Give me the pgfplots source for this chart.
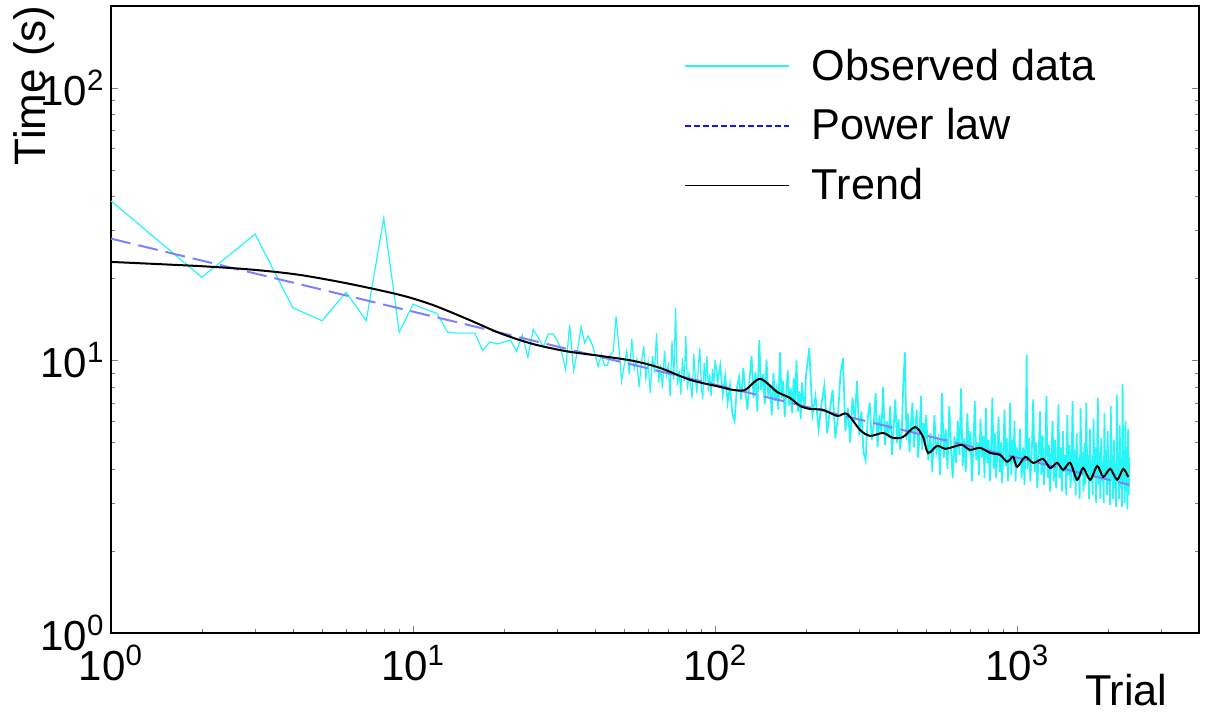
\documentclass[border=0pt]{standalone}
\usepackage{fontspec}
\setmainfont{Liberation Sans}
\usepackage{pgfplots}
\pgfplotsset{compat=1.18}

\definecolor{obs}{RGB}{40,245,245}
\definecolor{powlaw}{RGB}{128,128,255}
\definecolor{legblue}{RGB}{20,20,255}

\begin{document}
\begin{tikzpicture}
\begin{axis}[
  scale only axis,
  width=544pt, height=313.5pt,
  xmode=log, ymode=log,
  xmin=1, xmax=4000, ymin=1, ymax=200,
  axis line style={line width=0.6pt},
  tick align=inside,
  xtick pos=left,
  ytick pos=both,
  major tick length=3.5pt,
  minor tick length=2pt,
  xtick={1,10,100,1000},
  xticklabels={10\textsuperscript{0},10\textsuperscript{1},10\textsuperscript{2},10\textsuperscript{3}},
  minor xtick={2,3,4,5,6,7,8,9,20,30,40,50,60,70,80,90,200,300,400,500,600,700,800,900,2000,3000,4000},
  ytick={1,10,100},
  yticklabels={10\textsuperscript{0},10\textsuperscript{1},10\textsuperscript{2}},
  minor ytick={2,3,4,5,6,7,8,9,20,30,40,50,60,70,80,90,200},
  tick label style={font=\fontsize{21}{25}\selectfont, inner sep=0pt},
  xticklabel style={yshift=-6pt},
  yticklabel style={xshift=-3pt},
  xlabel={Trial},
  xlabel style={font=\fontsize{21.6}{26}\selectfont, at={(axis description cs:0.895,-0.1164)}, anchor=base west, inner sep=0pt},
  ylabel={Time (s)},
  ylabel style={font=\fontsize{22}{26}\selectfont, at={(axis description cs:-0.0515,1.0016)}, anchor=south east, inner sep=0pt},
  legend cell align=left,
  legend style={draw=none, fill=none, at={(axis description cs:0.521,0.945)}, anchor=north west,
    font=\fontsize{21.6}{26}\selectfont, row sep=8.75pt,
    /tikz/every odd column/.append style={column sep=9pt}},
  legend image code/.code={\draw[#1] (0pt,0pt) -- (52pt,0pt);},
]
% observed data, sparse part
\addplot[obs, line width=0.6pt, forget plot] coordinates {
(1,38.5) (2,20.2) (3,29.1) (4,15.6) (5,14.0) (6,17.8) (7,14.0) (8,33.3) (9,12.7) (10,16.1)
(11,15.4) (12,14.9) (13,12.7) (14,12.6) (15,12.6) (16,12.6) (17,10.9) (18,11.7) (19,11.5) (20,11.7)
(21,11.9) (22,10.8) (23,12.4) (24,10.3) (25,13.0) (26,12.1) (27,11.2) (28,12.5) (29,12.5) (30,11.9)
(31,10.8) (32,9.24) (33,13.5) (34,9.2) (35,10.8) (36,13.3) (37,11.6) (38,12.3) (39,11.6) (40,10.6)
(41,9.5) (42,10.5) (43,9.6) (44,9.6) (45,10.5) (46,10.8) (47,14.5) (48,11.4) (49,8.4) (50,9.6)
(51,10.8) (52,8.9) (53,12.0) (54,9.3) (55,10.1) (56,8.0) (57,9.7) (58,11.3) (59,8.6) (60,9.9)
(61,7.6) (62,10.4) (63,9.0) (64,12.6) (65,8.3) (66,9.4) (67,7.9) (68,10.9) (69,8.8) (70,9.6)
(71,7.4) (72,11.8) (73,8.5) (74,15.6) (75,8.1) (76,9.2) (77,7.5) (78,10.2) (79,8.4) (80,12.3)
(81,7.8) (82,9.0) (83,8.1) (84,7.3) (85,10.6) (86,8.7) (87,7.6) (88,9.5) (89,11.1) (90,8.0)
(91,7.2) (92,9.8) (93,8.3) (94,10.4) (95,7.7) (96,8.9) (97,7.4) (98,9.3) (99,8.2) (100,10.0)
};
% observed data, dense part
\addplot[obs, line width=0.85pt, forget plot] coordinates {
(100,10.0)
(102,8.4) (104,9.6) (106,7.5) (108,8.8) (110,7.0) (112,8.1) (114,6.4) (116,6.0) (118,7.9) (120,8.7)
(122,7.2) (124,9.4) (126,7.6) (128,6.6) (130,8.5) (132,10.4) (134,7.3) (136,9.1) (138,6.5) (140,11.9)
(142,7.8) (144,8.9) (146,6.9) (148,10.1) (150,7.4) (152,8.2) (154,6.3) (156,9.0) (158,7.1) (160,7.9)
(162,6.6) (164,10.7) (166,7.3) (168,8.4) (170,6.2) (172,7.6) (174,9.2) (176,6.8) (178,7.9) (180,6.4)
(182,8.6) (184,7.0) (186,10.0) (188,6.5) (190,7.7) (192,6.1) (194,8.3) (196,7.2) (198,6.7) (200,8.8)
(205,11.1) (210,6.3) (215,7.4) (220,5.6) (225,6.9) (230,8.1) (235,5.4) (240,6.6) (245,7.8) (250,5.2)
(255,6.2) (260,8.9) (265,10.2) (270,5.5) (275,6.7) (280,5.0) (285,7.3) (290,6.0) (295,8.4) (300,5.3)
(305,6.5) (310,4.6) (315,4.3) (320,6.1) (325,7.0) (330,5.1) (335,5.8) (340,7.6) (345,4.8) (350,6.3)
(355,5.4) (360,8.0) (365,4.9) (370,6.0) (375,5.2) (380,6.8) (385,4.5) (390,5.7) (395,7.2) (400,5.0)
(405,6.1) (410,4.7) (415,5.5) (420,8.3) (425,10.7) (430,5.1) (435,6.4) (440,4.6) (445,5.8) (450,7.0)
(455,4.8) (460,5.6) (465,6.6) (470,4.4) (475,5.3) (480,7.4) (485,4.7) (490,5.9) (495,4.9) (500,6.3)
(508,4.3) (516,5.4) (524,3.9) (532,6.3) (540,4.6) (548,5.1) (556,3.8) (564,7.6) (572,4.4) (580,5.6)
(588,4.0) (596,6.8) (604,4.7) (612,3.7) (620,5.3) (628,4.2) (636,6.0) (644,4.5) (652,7.9) (660,4.1)
(668,5.2) (676,3.9) (684,6.4) (692,4.6) (700,5.5) (708,3.6) (716,4.8) (724,7.1) (732,4.3) (740,5.0)
(748,3.8) (756,6.1) (764,4.4) (772,5.3) (780,3.7) (788,6.7) (796,4.2) (804,5.1) (812,3.6) (820,4.9)
(828,7.3) (836,4.0) (844,5.4) (852,3.7) (860,4.6) (868,6.2) (876,3.9) (884,5.0) (892,3.55) (900,4.7)
(908,6.6) (916,4.1) (924,5.2) (932,3.6) (940,4.5) (948,7.0) (956,3.8) (964,5.1) (972,4.2) (980,6.0)
(988,3.6) (996,4.8) (1010,4.1) (1022,5.6) (1034,3.7) (1046,4.8) (1058,3.5) (1070,6.2) (1075,10.5) (1082,4.0)
(1094,5.2) (1106,3.6) (1118,4.6) (1130,7.2) (1142,3.9) (1154,5.0) (1166,3.4) (1178,4.5) (1190,6.5) (1202,3.8)
(1214,5.3) (1226,3.5) (1238,4.4) (1250,7.4) (1262,3.7) (1274,4.9) (1286,3.3) (1298,4.6) (1310,6.0) (1322,3.6)
(1334,5.1) (1346,3.4) (1358,4.3) (1370,6.9) (1382,3.7) (1394,4.8) (1406,3.3) (1418,5.5) (1430,3.9) (1442,4.5)
(1454,3.2) (1466,6.3) (1478,3.8) (1490,4.9) (1502,3.4) (1514,4.2) (1526,7.1) (1538,3.6) (1550,4.7) (1562,3.2)
(1574,5.4) (1586,3.7) (1598,4.4) (1610,3.1) (1622,6.7) (1634,3.8) (1646,4.6) (1658,3.3) (1670,5.0) (1682,3.5)
(1694,7.0) (1706,3.9) (1718,4.5) (1730,3.1) (1742,5.6) (1754,3.6) (1766,4.3) (1778,3.2) (1790,6.1) (1802,3.7)
(1814,4.8) (1826,3.0) (1838,4.4) (1850,7.3) (1862,3.5) (1874,4.6) (1886,3.1) (1898,5.2) (1910,3.6) (1922,4.2)
(1934,3.0) (1946,6.4) (1958,3.7) (1970,4.7) (1982,3.2) (1994,5.5) (2006,3.5) (2018,4.3) (2030,2.95) (2042,6.8)
(2054,3.6) (2066,4.5) (2078,3.1) (2090,5.1) (2102,3.4) (2114,4.2) (2126,2.9) (2138,7.5) (2150,3.6) (2162,4.6)
(2174,3.1) (2186,5.8) (2198,3.4) (2210,4.4) (2222,2.9) (2234,8.2) (2246,3.5) (2258,4.7) (2270,3.0) (2282,6.0)
(2294,3.3) (2306,4.8) (2318,2.85) (2330,5.6) (2342,3.2) (2350,4.4)
};
% power law fit
\addplot[powlaw, line width=1pt, dash pattern=on 10pt off 4pt, forget plot] coordinates {
(1,28.0) (2350,3.50)
};
% trend
\addplot[black, line width=1pt, smooth, tension=0.5, forget plot] coordinates {
(1,23.0) (1.97,22.2) (3.0,21.5) (4.23,20.6) (6.18,19.1) (9.06,17.4) (11.6,16.0) (15.1,14.2)
(19.4,12.6) (24.9,11.5) (32.4,10.8) (41.6,10.4) (53.5,9.97) (65.8,9.39) (82.7,8.49) (103.9,8.0)
(114.7,7.8) (125.7,7.8) (141,8.56) (160.4,7.67) (177,7.29) (191.2,6.81) (206.4,6.64) (227.9,6.59)
(253.5,6.26) (273.5,6.37) (302,5.56) (326,5.29) (360,5.42) (388,5.2) (419,5.24) (459,5.7)
(488,5.24) (507,4.58) (543,4.86) (578,4.74) (614,4.82) (657,4.90) (698,4.70) (754,4.78)
(814,4.58) (878,4.50) (927,4.25) (970,4.43) (1000,4.07) (1063,4.43) (1130,4.21) (1219,4.35)
(1286,4.03) (1357,4.21) (1420,3.97) (1498,4.21) (1580,3.65) (1654,4.03) (1745,3.65) (1841,4.10)
(1928,3.74) (2033,4.0) (2143,3.65) (2244,4.0) (2331,3.74)
};
\addlegendimage{obs, line width=0.8pt}
\addlegendentry{Observed data}
\addlegendimage{legblue, line width=0.8pt, dash pattern=on 3pt off 1.5pt}
\addlegendentry{Power law}
\addlegendimage{black, line width=0.6pt}
\addlegendentry{Trend}
\end{axis}
\path (current axis.south west) ++(-55.5pt,-40pt);
\path (current axis.north east) ++(3pt,3pt);
\end{tikzpicture}
\end{document}
